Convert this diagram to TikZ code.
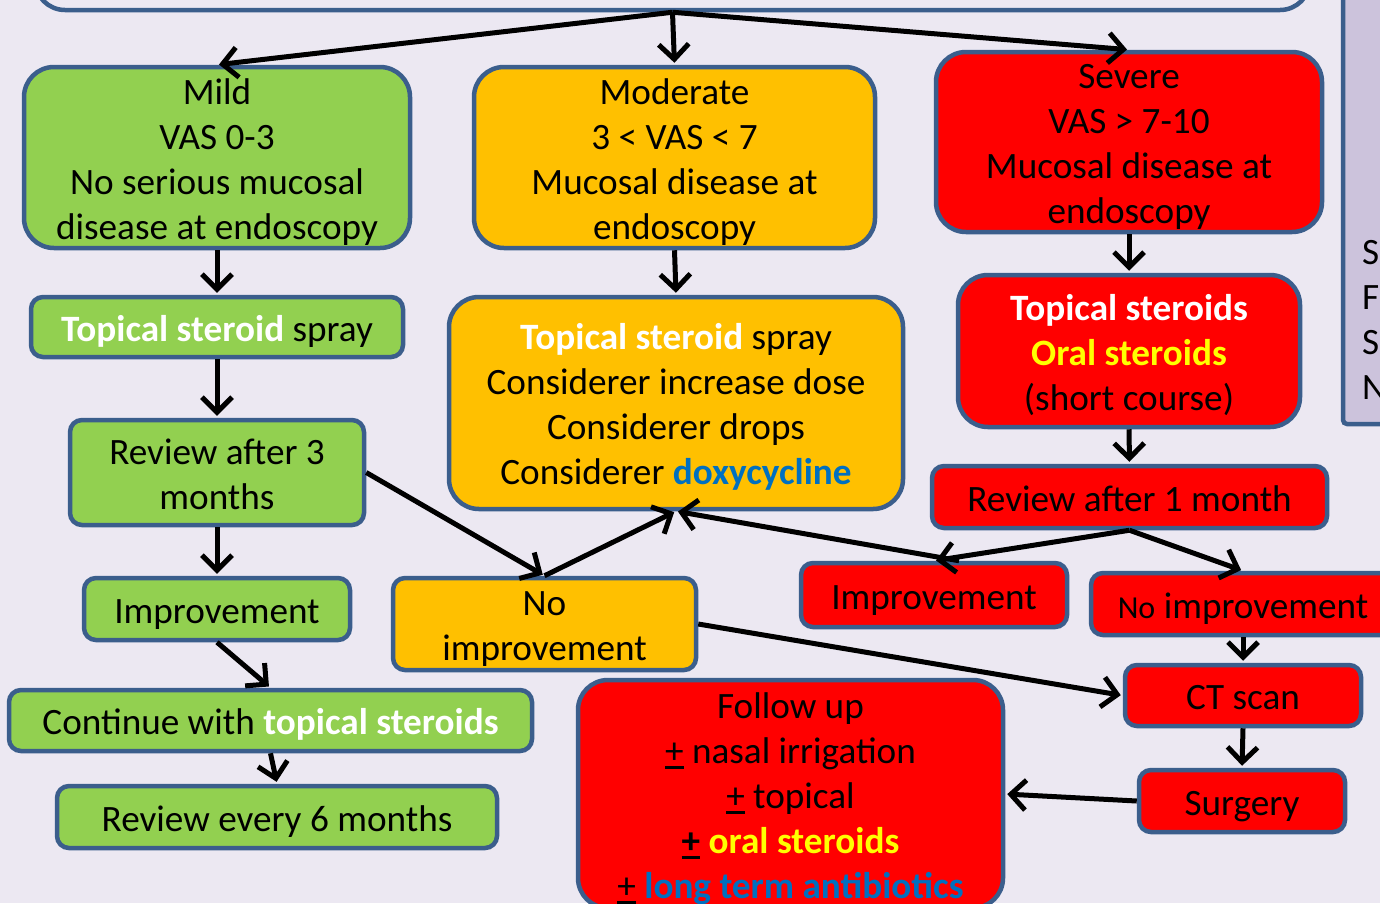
\documentclass[tikz,border=0pt]{standalone}
\usepackage{fontspec}
\setmainfont{Carlito}
\usetikzlibrary{arrows.meta}
\definecolor{bg}{RGB}{236,232,242}
\definecolor{bord}{RGB}{59,94,140}
\definecolor{gfill}{RGB}{146,208,80}
\definecolor{ofill}{RGB}{255,192,0}
\definecolor{rfill}{RGB}{255,0,0}
\definecolor{yel}{RGB}{255,255,0}
\definecolor{blu}{RGB}{0,112,192}
\definecolor{lav}{RGB}{204,195,220}
\newcommand\tstrut{\rule[-7pt]{0pt}{42pt}}
\newcommand\ulplus{\leavevmode{\color{black}\rlap{\rule[-6pt]{0.5em}{3pt}}+}}
\begin{document}
\begin{tikzpicture}[x=1pt,y=-1pt,
  bigbox/.style={draw=bord, line width=4.5pt, rounded corners=30pt, align=center, inner sep=0pt, font=\fontsize{37.2}{45}\selectfont},
  smallbox/.style={draw=bord, line width=4.5pt, rounded corners=12pt, align=center, inner sep=0pt, font=\fontsize{37.2}{45}\selectfont},
  arr/.style={line width=5pt, shorten >=2pt, -{Straight Barb[length=15pt,width=30pt]}},
  sidetxt/.style={anchor=west, inner sep=0pt, font=\fontsize{37.2}{45}\selectfont}
]
\fill[bg] (0,0) rectangle (1380,903);
\useasboundingbox (0,0) rectangle (1380,903);

% top and side panels (cut off)
\node[bigbox, fill=bg, minimum width=1275pt, minimum height=80pt] (top) at (672.5,-30) {};
\node[draw=bord, line width=4.5pt, rounded corners=4pt, fill=lav, minimum width=97pt, minimum height=464pt, inner sep=0pt] (side) at (1391.5,192) {};
\node[sidetxt] (s1) at (1362,253) {S};
\node[sidetxt] (s2) at (1362,298) {F};
\node[sidetxt] (s3) at (1362,343) {S};
\node[sidetxt] (s4) at (1362,388) {N};

% mild column
\node[bigbox, fill=gfill, minimum width=386pt, minimum height=181pt] (mild) at (217,157.5)
  {\tstrut Mild\\VAS 0-3\\No serious mucosal\\disease at endoscopy\tstrut};
\node[smallbox, fill=gfill, minimum width=372pt, minimum height=60pt] (spray) at (217,327)
  {\tstrut{\color{white}\bfseries Topical steroid} spray};
\node[smallbox, fill=gfill, minimum width=294pt, minimum height=105pt] (rev3) at (217,472.5)
  {\tstrut Review after 3\\months\tstrut};
\node[smallbox, fill=gfill, minimum width=266pt, minimum height=62pt] (impg) at (217,609)
  {\tstrut Improvement};
\node[smallbox, fill=gfill, minimum width=523pt, minimum height=61pt] (cont) at (270.5,720.5)
  {\tstrut Continue with {\color{white}\bfseries topical steroids}};
\node[smallbox, fill=gfill, minimum width=440pt, minimum height=62pt] (rev6) at (277,817)
  {\tstrut Review every 6 months};

% moderate column
\node[bigbox, fill=ofill, minimum width=401pt, minimum height=181pt] (mod) at (674.5,157.5)
  {\tstrut Moderate\\3 < VAS < 7\\Mucosal disease at\\endoscopy\tstrut};
\node[bigbox, fill=ofill, minimum width=454pt, minimum height=212pt] (modtreat) at (676,403)
  {\tstrut{\color{white}\bfseries Topical steroid} spray\\Considerer increase dose\\Considerer drops\\Considerer {\color{blu}\bfseries doxycycline}\tstrut};
\node[smallbox, fill=ofill, minimum width=303pt, minimum height=92pt] (noimpo) at (544.5,624)
  {\tstrut No\\improvement\tstrut};

% severe column
\node[bigbox, fill=rfill, minimum width=386pt, minimum height=180pt] (sev) at (1129,142)
  {\tstrut Severe\\VAS > 7-10\\Mucosal disease at\\endoscopy\tstrut};
\node[bigbox, fill=rfill, minimum width=342pt, minimum height=152pt] (topr) at (1129,351)
  {\tstrut{\color{white}\bfseries Topical steroids}\\{\color{yel}\bfseries Oral steroids}\\(short course)\tstrut};
\node[smallbox, fill=rfill, minimum width=395pt, minimum height=62pt] (rev1) at (1129.5,497)
  {\tstrut Review after 1 month};
\node[smallbox, fill=rfill, minimum width=266pt, minimum height=64pt] (impr) at (934,595)
  {\tstrut Improvement};
\node[smallbox, fill=rfill, minimum width=304pt, minimum height=62pt] (noimpr) at (1243,604)
  {\tstrut{\fontsize{32}{45}\selectfont No} improvement};
\node[smallbox, fill=rfill, minimum width=236pt, minimum height=61pt] (ct) at (1243,695.5)
  {\tstrut CT scan};
\node[smallbox, fill=rfill, minimum width=206pt, minimum height=62pt] (surg) at (1242,801)
  {\tstrut Surgery};
\node[bigbox, fill=rfill, minimum width=425pt, minimum height=228pt] (follow) at (790.5,794)
  {\tstrut Follow up\\\ulplus{} nasal irrigation\\\ulplus{} topical\\{\bfseries\ulplus{} \color{yel}oral steroids}\\\ulplus{} {\color{blu}\bfseries long term antibiotics}\tstrut};

% connectors
\draw[arr] (top.south) -- (mild.north);
\draw[arr] (top.south) -- (mod.north);
\draw[arr] (top.south) -- (sev.north);
\draw[arr] (mild.south) -- (spray.north);
\draw[arr] (spray.south) -- (rev3.north);
\draw[arr] (rev3.south) -- (impg.north);
\draw[arr] (impg.south) -- (cont.north);
\draw[arr] (cont.south) -- (rev6.north);
\draw[arr] (rev3.east) -- (noimpo.north);
\draw[arr] (noimpo.north) -- (modtreat.south);
\draw[arr] (mod.south) -- (modtreat.north);
\draw[arr] (noimpo.east) -- (ct.west);
\draw[arr] (sev.south) -- (topr.north);
\draw[arr] (topr.south) -- (rev1.north);
\draw[arr] (rev1.south) -- (impr.north);
\draw[arr] (rev1.south) -- (noimpr.north);
\draw[arr] ([xshift=25pt]impr.north) -- (modtreat.south);
\draw[arr] (noimpr.south) -- (ct.north);
\draw[arr] (ct.south) -- (surg.north);
\draw[arr] (surg.west) -- (follow.east);
\end{tikzpicture}
\end{document}
